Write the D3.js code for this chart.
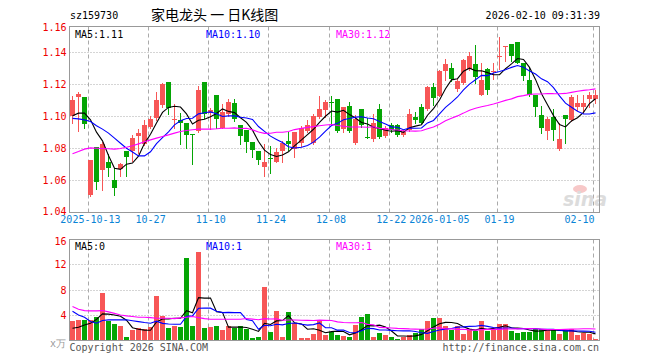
<!DOCTYPE html>
<html>
<head>
<meta charset="utf-8">
<script src="https://cdn.jsdelivr.net/npm/d3@7"></script>
<style>
  body { margin: 0; background: #fff; }
  svg { display: block; }
  text { font-family: "DejaVu Sans Mono", monospace; font-size: 10px; }
</style>
</head>
<body>
<div id="chart"></div>
<script>
const dates = [
  "2025-09-30", "2025-10-09", "2025-10-10",
  "2025-10-13", "2025-10-14", "2025-10-15", "2025-10-16", "2025-10-17",
  "2025-10-20", "2025-10-21", "2025-10-22", "2025-10-23", "2025-10-24",
  "2025-10-27", "2025-10-28", "2025-10-29", "2025-10-30", "2025-10-31",
  "2025-11-03", "2025-11-04", "2025-11-05", "2025-11-06", "2025-11-07",
  "2025-11-10", "2025-11-11", "2025-11-12", "2025-11-13", "2025-11-14",
  "2025-11-17", "2025-11-18", "2025-11-19", "2025-11-20", "2025-11-21",
  "2025-11-24", "2025-11-25", "2025-11-26", "2025-11-27", "2025-11-28",
  "2025-12-01", "2025-12-02", "2025-12-03", "2025-12-04", "2025-12-05",
  "2025-12-08", "2025-12-09", "2025-12-10", "2025-12-11", "2025-12-12",
  "2025-12-15", "2025-12-16", "2025-12-17", "2025-12-18", "2025-12-19",
  "2025-12-22", "2025-12-23", "2025-12-24", "2025-12-25", "2025-12-26",
  "2025-12-29", "2025-12-30", "2025-12-31",
  "2026-01-05", "2026-01-06", "2026-01-07", "2026-01-08", "2026-01-09",
  "2026-01-12", "2026-01-13", "2026-01-14", "2026-01-15", "2026-01-16",
  "2026-01-19", "2026-01-20", "2026-01-21", "2026-01-22", "2026-01-23",
  "2026-01-26", "2026-01-27", "2026-01-28", "2026-01-29", "2026-01-30",
  "2026-02-02", "2026-02-03", "2026-02-04", "2026-02-05", "2026-02-06",
  "2026-02-09", "2026-02-10"
]

const opens = [
  1.100, 1.112, 1.112, 1.051, 1.081, 1.067, 1.0715, 1.060, 1.067, 1.0785,
  1.0785, 1.088, 1.083, 1.0933, 1.0985, 1.107, 1.1213, 1.098, 1.098, 1.0958,
  1.089, 1.091, 1.1215, 1.102, 1.1135, 1.0933, 1.101, 1.1083, 1.0948, 1.0913,
  1.0838, 1.0785, 1.068, 1.0742, 1.0717, 1.078, 1.085, 1.0796, 1.0833, 1.0906,
  1.0833, 1.0996, 1.1038, 1.109, 1.111, 1.0921, 1.1067, 1.0833, 1.1048, 1.087,
  1.086, 1.1048, 1.0879, 1.0948, 1.095, 1.0885, 1.0917, 1.0996, 1.1058, 1.1048,
  1.1183, 1.1129, 1.1285, 1.1302, 1.1167, 1.1208, 1.1296, 1.1329, 1.1135, 1.1296,
  1.128, 1.1375, 1.1435, 1.1454, 1.1467, 1.1333, 1.1229, 1.1135, 1.101, 1.0913,
  1.0996, 1.0798, 1.101, 1.0975, 1.1058, 1.1058, 1.111, 1.111
]
const highs = [
  1.113, 1.115, 1.112, 1.073, 1.081, 1.084, 1.0765, 1.068, 1.071, 1.0785,
  1.0885, 1.092, 1.098, 1.100, 1.115, 1.121, 1.1213, 1.108, 1.102, 1.096,
  1.089, 1.119, 1.1215, 1.105, 1.1135, 1.108, 1.111, 1.111, 1.095, 1.0913,
  1.084, 1.0785, 1.083, 1.0817, 1.080, 1.085, 1.090, 1.090, 1.094, 1.098,
  1.1017, 1.113, 1.1104, 1.113, 1.111, 1.106, 1.1088, 1.101, 1.1048, 1.099,
  1.1017, 1.108, 1.0938, 1.096, 1.0955, 1.0917, 1.1046, 1.1025, 1.1079, 1.119,
  1.1208, 1.129, 1.1358, 1.1333, 1.1233, 1.1358, 1.1406, 1.1448, 1.1333, 1.1302,
  1.1333, 1.150, 1.1442, 1.1454, 1.1467, 1.1333, 1.1302, 1.1135, 1.1067, 1.0996,
  1.1046, 1.0958, 1.101, 1.1135, 1.1135, 1.1135, 1.1156, 1.1167
]
const lows = [
  1.096, 1.091, 1.093, 1.050, 1.055, 1.054, 1.063, 1.051, 1.063, 1.063,
  1.072, 1.077, 1.082, 1.093, 1.098, 1.106, 1.1017, 1.093, 1.083, 1.080,
  1.0704, 1.0906, 1.099, 1.092, 1.093, 1.093, 1.100, 1.097, 1.083, 1.078,
  1.0746, 1.070, 1.063, 1.0646, 1.0715, 1.0713, 1.079, 1.0746, 1.0815, 1.090,
  1.083, 1.099, 1.0996, 1.0954, 1.0906, 1.0906, 1.0906, 1.083, 1.0933, 1.0865,
  1.0844, 1.0865, 1.0875, 1.090, 1.088, 1.088, 1.0912, 1.0958, 1.0958, 1.1042,
  1.1073, 1.1125, 1.1229, 1.1223, 1.116, 1.1204, 1.129, 1.1208, 1.1135, 1.1142,
  1.1233, 1.1296, 1.1344, 1.1344, 1.1333, 1.1229, 1.1125, 1.1004, 1.0896, 1.0858,
  1.0854, 1.0792, 1.0833, 1.0969, 1.1042, 1.1021, 1.1058, 1.1083
]
const closes = [
  1.110, 1.114, 1.095, 1.073, 1.059, 1.083, 1.068, 1.055, 1.070, 1.075,
  1.0865, 1.0896, 1.095, 1.0983, 1.110, 1.120, 1.105, 1.0985, 1.096, 1.0885,
  1.0885, 1.1167, 1.1017, 1.104, 1.0983, 1.1031, 1.1088, 1.098, 1.088, 1.0838,
  1.0788, 1.073, 1.0713, 1.074, 1.078, 1.0833, 1.083, 1.090, 1.0925, 1.0946,
  1.100, 1.1048, 1.1088, 1.1088, 1.0913, 1.1058, 1.0913, 1.0983, 1.0948, 1.0865,
  1.0958, 1.0871, 1.0927, 1.0917, 1.0885, 1.0906, 1.1017, 1.0975, 1.0958, 1.1183,
  1.1115, 1.1285, 1.1329, 1.1233, 1.1219, 1.135, 1.1379, 1.125, 1.1229, 1.1163,
  1.1283, 1.138, 1.1438, 1.1379, 1.1333, 1.125, 1.1135, 1.1063, 1.0931, 1.0985,
  1.0913, 1.086, 1.0985, 1.1119, 1.1083, 1.1083, 1.1135, 1.1135
]
// volume, x10k
const volumes = [
  3.16, 3.3, 3.3, 3.26, 3.7, 7.5, 3.16, 2.6, 2.3, 0.5,
  1.6, 1.95, 1.85, 2.2, 7.05, 3.95, 2.05, 2.37, 2.2, 13.05,
  2.3, 14.0, 2.05, 2.2, 2.3, 1.7, 2.37, 2.05, 2.3, 1.9,
  0.37, 0.58, 8.47, 1.42, 4.68, 0.63, 4.5, 2.84, 0.47, 0.47,
  1.05, 3.26, 0.95, 1.3, 0.9, 0.74, 0.63, 2.47, 3.74, 4.2,
  0.58, 1.2, 0.9, 0.63, 0.26, 0.63, 0.9, 1.26, 1.8, 3.1,
  3.58, 3.58, 2.3, 1.68, 2.3, 1.05, 1.68, 1.53, 3.1, 1.58,
  1.68, 2.63, 2.63, 1.58, 1.26, 1.37, 1.42, 1.8, 1.8, 1.68,
  1.68, 1.05, 1.53, 1.8, 0.9, 1.26, 1.05, 0.26
]

// moving averages at the left edge depend on days before the window
const ma5Head = [1.1004, 1.1021, 1.1021, 1.0979]
const ma10Head = [1.0988, 1.0985, 1.0979, 1.0969, 1.0942, 1.0921, 1.0896, 1.0865, 1.0833]
const ma30Head = [1.0767, 1.0781, 1.0796, 1.0804, 1.0802, 1.08, 1.0798, 1.0796, 1.08, 1.0808,
  1.0817, 1.0829, 1.0842, 1.0854, 1.0865, 1.0875, 1.0885, 1.0896, 1.0906, 1.0913,
  1.0917, 1.0921, 1.0921, 1.0921, 1.0923, 1.0927, 1.0927, 1.0929, 1.0925]
const vma5Head = [1.95, 2.1, 2.47, 2.74]
const vma10Head = [4.63, 4.05, 3.68, 3.0, 2.74, 3.16, 3.26, 3.26, 3.26]
const vma30Head = [5.37, 4.95, 4.74, 4.7, 4.7, 4.74, 4.53, 4.3, 4.05, 3.9,
  3.79, 3.68, 3.68, 3.63, 3.53, 3.53, 3.53, 3.47, 3.58, 3.68,
  3.79, 3.63, 3.47, 3.37, 3.37, 3.37, 3.37, 3.37, 3.37]

const priceTicks = [1.04, 1.06, 1.08, 1.10, 1.12, 1.14, 1.16]
const priceLabels = ["1.04", "1.06", "1.08", "1.10", "1.12", "1.14", "1.16"]
const volTicks = [4, 8, 12, 16]
const volLabels = ["4", "8", "12", "16"]
const tickDates = ["2025-10-13", "2025-10-27", "2025-11-10", "2025-11-24", "2025-12-08",
  "2025-12-22", "2026-01-05", "2026-01-19", "2026-02-10"]
const tickLabels = ["2025-10-13", "10-27", "11-10", "11-24", "12-08",
  "12-22", "2026-01-05", "01-19", "02-10"]
const maLabels = ["MA5:1.11", "MA10:1.10", "MA30:1.12"]
const vmaLabels = ["MA5:0", "MA10:1", "MA30:1"]

const width = 660, height = 360
const left = 69.5, right = 599.5
const pTop = 26.5, pBot = 212.5, vTop = 239.5, vBot = 340.5
const red = "#f75656", green = "#05a505", grid = "#aaa"
const maColors = ["#000", "#00f", "#f0f"]

const svg = d3.select("#chart").append("svg")
  .attr("width", width).attr("height", height)

const x = d3.scaleBand().domain(dates).range([69.4, 598.8])
const cx = d => x(d) + x.bandwidth() / 2
const bx = d => Math.round(cx(d) - 2.5)
const y = d3.scaleLinear().domain([1.04, 1.16]).range([212.5, 20.5])
const yv = d3.scaleLinear().domain([0, 16]).range([vBot, vTop])

const snap = v => Math.round(v - 0.5) + 0.5

function movingAvg(vals, n, head) {
  return vals.map((v, i) => i < head.length ? head[i] : d3.mean(vals.slice(i - n + 1, i + 1)))
}

let candles = dates.map((d, i) => ({
  date: d, o: opens[i], h: highs[i], l: lows[i], c: closes[i], v: volumes[i],
  up: closes[i] >= opens[i]
}))

// grids
function panelGrid(top, bot, hTicks, scale) {
  svg.append("g").selectAll("line")
    .data(hTicks.filter(t => scale(t) > top + 2 && scale(t) < bot - 2))
    .enter().append("line")
    .attr("x1", left).attr("x2", right)
    .attr("y1", d => snap(scale(d))).attr("y2", d => snap(scale(d)))
    .attr("stroke", grid).attr("stroke-dasharray", "1,2")
  svg.append("g").selectAll("line")
    .data(tickDates)
    .enter().append("line")
    .attr("x1", d => bx(d) + 0.5).attr("x2", d => bx(d) + 0.5)
    .attr("y1", top).attr("y2", bot)
    .attr("stroke", grid).attr("stroke-dasharray", "4,3")
}
panelGrid(pTop, pBot, priceTicks, y)
panelGrid(vTop, vBot, volTicks, yv)

// watermark
svg.append("ellipse").attr("cx", 580).attr("cy", 189).attr("rx", 7).attr("ry", 4)
  .attr("fill", "#f7c8c8")
svg.append("text").attr("x", 563).attr("y", 206)
  .style("font-family", "DejaVu Sans").style("font-size", "19px")
  .style("font-style", "italic").style("font-weight", "bold")
  .attr("fill", "#dcdcdc").text("sina")

// candles
let cg = svg.append("g").selectAll("g").data(candles).enter().append("g")
cg.append("line")
  .attr("x1", d => bx(d.date) + 2.5).attr("x2", d => bx(d.date) + 2.5)
  .attr("y1", d => Math.round(y(d.h))).attr("y2", d => Math.round(y(d.l)) + 1)
  .attr("stroke", d => d.up ? red : green)
cg.append("rect")
  .attr("x", d => bx(d.date)).attr("width", 5)
  .attr("y", d => Math.round(y(Math.max(d.o, d.c))))
  .attr("height", d => Math.max(1, Math.round(Math.abs(y(d.o) - y(d.c)))))
  .attr("fill", d => d.up ? red : green)

// volume bars
svg.append("g").selectAll("rect").data(candles).enter().append("rect")
  .attr("x", d => bx(d.date)).attr("width", 5)
  .attr("y", d => Math.round(yv(d.v)))
  .attr("height", d => vBot - 0.5 - Math.round(yv(d.v)))
  .attr("fill", d => d.up ? red : green)

// moving average lines
const priceMAs = [movingAvg(closes, 5, ma5Head), movingAvg(closes, 10, ma10Head), movingAvg(closes, 30, ma30Head)]
const volMAs = [movingAvg(volumes, 5, vma5Head), movingAvg(volumes, 10, vma10Head), movingAvg(volumes, 30, vma30Head)]

let priceLine = d3.line().x((d, i) => bx(dates[i]) + 2.5).y(d => y(d))
let volLine = d3.line().x((d, i) => bx(dates[i]) + 2.5).y(d => yv(d))

svg.append("g").selectAll("path").data(priceMAs).enter().append("path")
  .attr("d", priceLine).attr("fill", "none")
  .attr("stroke", (d, i) => maColors[i]).attr("stroke-width", 1.1)
svg.append("g").selectAll("path").data(volMAs).enter().append("path")
  .attr("d", volLine).attr("fill", "none")
  .attr("stroke", (d, i) => maColors[i]).attr("stroke-width", 1.1)

// frames
svg.append("rect").attr("x", left).attr("y", pTop).attr("width", right - left).attr("height", pBot - pTop)
  .attr("fill", "none").attr("stroke", "#999")
svg.append("rect").attr("x", left).attr("y", vTop).attr("width", right - left).attr("height", vBot - vTop)
  .attr("fill", "none").attr("stroke", "#999")

// axis labels
svg.append("g").selectAll("text").data(priceTicks).enter().append("text")
  .attr("x", 66.5).attr("y", d => Math.max(pTop + 1, Math.min(pBot - 1, y(d))))
  .attr("text-anchor", "end").attr("dominant-baseline", "central")
  .attr("fill", "#e00").text((d, i) => priceLabels[i])
svg.append("g").selectAll("text").data(volTicks).enter().append("text")
  .attr("x", 66.5).attr("y", d => Math.max(vTop + 2, yv(d)))
  .attr("text-anchor", "end").attr("dominant-baseline", "central")
  .attr("fill", "#e00").text((d, i) => volLabels[i])
svg.append("text").attr("x", 66).attr("y", 343).attr("text-anchor", "end")
  .attr("dominant-baseline", "central").attr("fill", "#999").text("x万")

svg.append("g").selectAll("text").data(tickDates).enter().append("text")
  .attr("x", d => cx(d)).attr("y", 223)
  .attr("text-anchor", "middle").attr("fill", "#0a84d6")
  .text((d, i) => tickLabels[i])
  .each(function () {
    let w = this.getComputedTextLength()
    let xx = +d3.select(this).attr("x")
    if (xx + w / 2 > right - 5) d3.select(this).attr("x", right - 5 - w / 2)
  })

// legends
const legendX = [75, 206, 336]
svg.append("g").selectAll("text").data(maLabels).enter().append("text")
  .attr("x", (d, i) => legendX[i]).attr("y", 38)
  .attr("fill", (d, i) => maColors[i]).text(d => d)
svg.append("g").selectAll("text").data(vmaLabels).enter().append("text")
  .attr("x", (d, i) => legendX[i]).attr("y", 250)
  .attr("fill", (d, i) => maColors[i]).text(d => d)

// header / footer
svg.append("text").attr("x", 70).attr("y", 19).attr("fill", "#000").text("sz159730")
svg.append("text").attr("x", 151).attr("y", 20)
  .style("font-family", "'Noto Sans CJK SC', sans-serif").style("font-size", "14px")
  .attr("fill", "#000").text("家电龙头 一 日K线图")
svg.append("text").attr("x", 600).attr("y", 19).attr("text-anchor", "end")
  .attr("fill", "#000").text("2026-02-10 09:31:39")
svg.append("text").attr("x", 69.5).attr("y", 351).attr("fill", "#555").text("Copyright 2026 SINA.COM")
svg.append("text").attr("x", 599).attr("y", 351).attr("text-anchor", "end")
  .attr("fill", "#555").text("http://finance.sina.com.cn")
</script>
</body>
</html>
